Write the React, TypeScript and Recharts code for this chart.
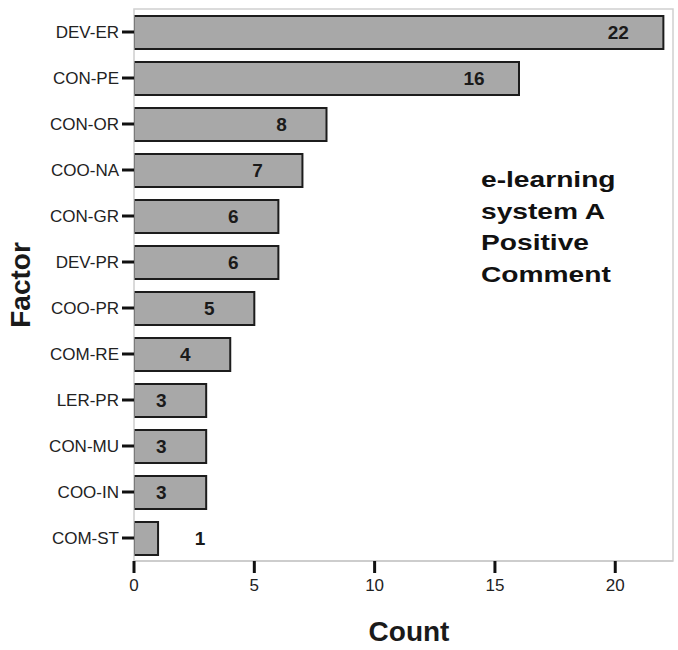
import { BarChart, Bar, XAxis, YAxis, ReferenceArea, LabelList } from 'recharts';

const factors = [
  'DEV-ER', 'CON-PE', 'CON-OR', 'COO-NA', 'CON-GR', 'DEV-PR',
  'COO-PR', 'COM-RE', 'LER-PR', 'CON-MU', 'COO-IN', 'COM-ST',
];
const counts = [22, 16, 8, 7, 6, 6, 5, 4, 3, 3, 3, 1];
const countTicks = [0, 5, 10, 15, 20];
const titleLines = ['e-learning', 'system A', 'Positive', 'Comment'];

const FONT = '"Liberation Sans", Arial, Helvetica, sans-serif';

// Count labels sit near the bar end; very short bars get it outside
function CountLabel(props: any) {
  const { x, y, width, height, value } = props;
  const end = x + width;
  const cx = value >= 3 ? end - 45 : end + 42;
  return (
    <text
      x={cx}
      y={y + height / 2}
      textAnchor="middle"
      dominantBaseline="central"
      fontFamily={FONT}
      fontWeight="bold"
      fontSize={19}
      fill="#1a1a1a"
    >
      {value}
    </text>
  );
}

export default function App() {
  const data = factors.map((f, i) => ({ factor: f, count: counts[i] }));

  return (
    <div style={{ position: 'relative', width: 678, height: 650, background: '#fff', fontFamily: FONT }}>
      <style>{'body{margin:0}'}</style>
      <BarChart
        width={678}
        height={650}
        data={data}
        layout="vertical"
        margin={{ top: 9, right: 5, bottom: 59, left: 0 }}
        barSize={33}
      >
        <ReferenceArea x1={0} x2={22.4} stroke="#cfcfcf" strokeWidth={1.5} fill="none" />
        <XAxis
          type="number"
          domain={[0, 22.4]}
          ticks={countTicks}
          allowDataOverflow
          height={30}
          axisLine={{ stroke: '#c8c8c8', strokeWidth: 1.5 }}
          tickLine={{ stroke: '#111', strokeWidth: 3 }}
          tickSize={12}
          tickMargin={6}
          tick={{ fill: '#222', fontSize: 17, fontFamily: FONT }}
        />
        <YAxis
          type="category"
          dataKey="factor"
          width={134}
          axisLine={{ stroke: '#d8d8d8', strokeWidth: 1 }}
          tickLine={{ stroke: '#111', strokeWidth: 3 }}
          tickSize={12}
          tickMargin={3}
          tick={{ fill: '#222', fontSize: 17, fontFamily: FONT }}
        />
        <Bar
          dataKey="count"
          fill="#a8a8a8"
          stroke="#1c1c1c"
          strokeWidth={2}
          isAnimationActive={false}
        >
          <LabelList dataKey="count" content={CountLabel} />
        </Bar>
      </BarChart>

      <div
        style={{
          position: 'absolute', left: 21, top: 285,
          transform: 'translate(-50%, -50%) rotate(-90deg)',
          fontSize: 28, fontWeight: 'bold', color: '#1a1a1a', whiteSpace: 'nowrap',
        }}
      >
        Factor
      </div>
      <div
        style={{
          position: 'absolute', left: 409, top: 632,
          transform: 'translate(-50%, -50%)',
          fontSize: 28, fontWeight: 'bold', color: '#1a1a1a',
        }}
      >
        Count
      </div>
      <div
        style={{
          position: 'absolute', left: 481, top: 164,
          transform: 'scaleX(1.28)', transformOrigin: 'left top',
          fontSize: 22, fontWeight: 'bold', lineHeight: '31.5px', color: '#111',
          whiteSpace: 'nowrap',
        }}
      >
        {titleLines.map((l) => (
          <div key={l}>{l}</div>
        ))}
      </div>
    </div>
  );
}
